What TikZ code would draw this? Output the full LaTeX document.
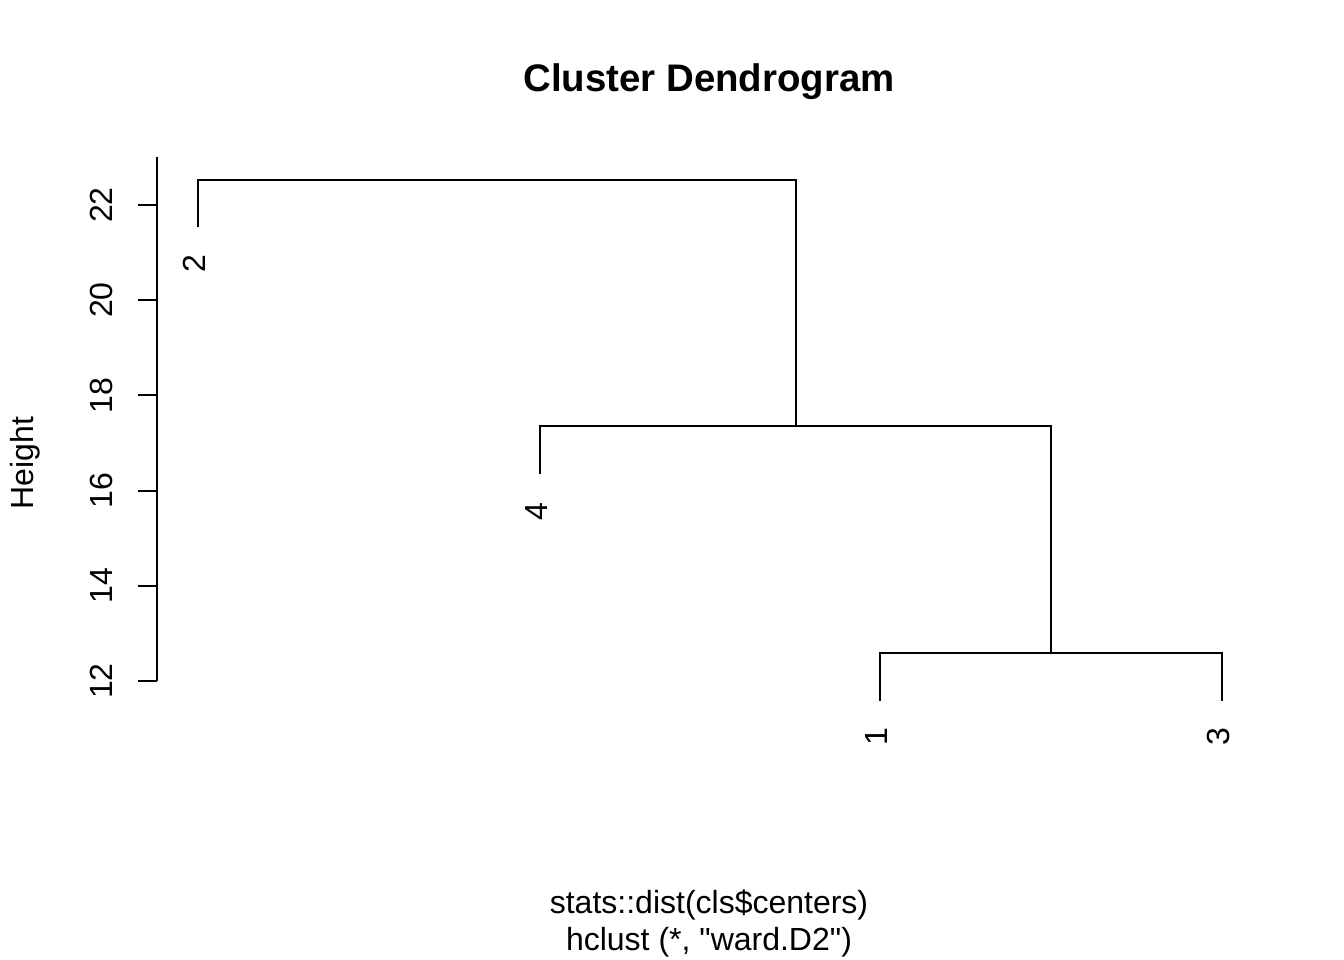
\documentclass[tikz,border=0pt]{standalone}
\usepackage{fontspec}
\setmainfont{Liberation Sans}[Ligatures=TeXOff]
\begin{document}
\begin{tikzpicture}[x=1pt,y=-1pt,line width=2pt,
  lbl/.style={rotate=90,inner sep=0pt,font=\fontsize{32}{38}\selectfont},
  leaf/.style={lbl,anchor=east}]
\useasboundingbox (0,0) rectangle (1344,960);

\node[font=\fontsize{38.4}{46}\selectfont\bfseries,anchor=base] (title) at (709,92) {Cluster Dendrogram};

% axis
\coordinate (a0) at (157,157);
\coordinate (a1) at (157,681);
\draw (a0) -- (a1);
\foreach \v in {12,14,...,22} {
  \coordinate (t\v) at (157,{681-(\v-12)*47.6});
  \draw (t\v) -- ++(-19,0);
  \node[lbl,anchor=base] (n\v) at (112,{681-(\v-12)*47.6}) {\v};
}
\node[lbl,anchor=base] (ylab) at (33,463) {Height};

% leaves and merges
\coordinate (l2) at (198,227);
\coordinate (l4) at (540,474);
\coordinate (l1) at (880,701);
\coordinate (l3) at (1222,701);
\coordinate (m13) at (1051,653);
\coordinate (m134) at (795.5,426);
\coordinate (root) at (496.5,180);

\draw (l1) |- (m13) -| (l3);
\draw (l4) |- (m134) -| (m13);
\draw (l2) |- (root) -| (m134);

\node[leaf] (o2) at ([shift={(-4,27)}]l2) {2};
\node[leaf] (o4) at ([shift={(-4,28)}]l4) {4};
\node[leaf] (o1) at ([shift={(-4,26)}]l1) {1};
\node[leaf] (o3) at ([shift={(-4,26)}]l3) {3};

%\node (sub) at (709,900) {};
\node[font=\fontsize{32}{38}\selectfont,anchor=base] (xlab) at (709,913) {stats::dist(cls\$centers)};
\node[font=\fontsize{32}{38}\selectfont,anchor=base] (sub) at (709,950) {hclust (*, "ward.D2")};

\end{tikzpicture}
\end{document}
